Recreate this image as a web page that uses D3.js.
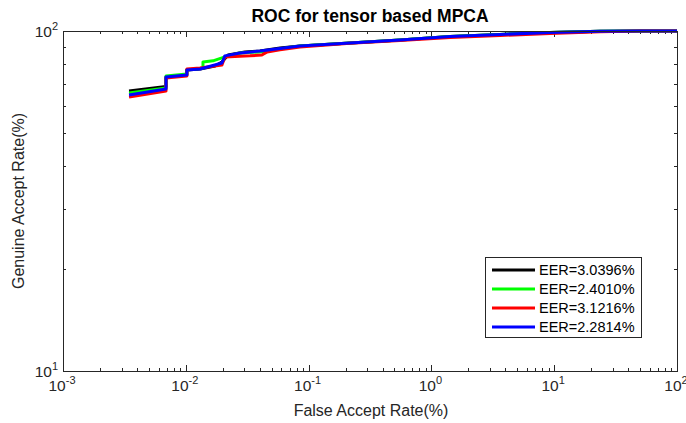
<!DOCTYPE html>
<html><head><meta charset="utf-8">
<script src="https://cdn.jsdelivr.net/npm/d3@7"></script>
<style>body{margin:0;background:#fff}svg{display:block}text{font-family:"Liberation Sans",Arial,Helvetica,sans-serif}</style>
</head><body><svg id="c" width="686" height="423"></svg>
<script>
const title = "ROC for tensor based MPCA";
const xLabel = "False Accept Rate(%)";
const yLabel = "Genuine Accept Rate(%)";
const xTickExps = [-3, -2, -1, 0, 1, 2];
const yTickExps = [1, 2];
const seriesNames = ["EER=3.0396%", "EER=2.4010%", "EER=3.1216%", "EER=2.2814%"];
const seriesColors = ["#000000", "#00ff00", "#ff0000", "#0000ff"];

const blackFAR = [0.00345,0.0069,0.0069,0.0102,0.0102,0.0131,0.0173,0.0197,0.0221,0.0303,0.0402,0.0585,0.085,0.217,0.555,1.42,3.62,9.25,23.6,50,100];
const blackGAR = [66.6,68.7,73.2,74.2,76.8,77.3,78.9,81.1,85.0,86.8,87.3,89.1,90.3,92.2,94.1,96.3,97.7,99.0,99.8,100,100];
const greenFAR = [0.00345,0.0069,0.0069,0.0102,0.0102,0.0138,0.0138,0.01665,0.0208,0.0276,0.0402,0.0585,0.085,0.217,0.555,1.42,3.62,9.25,23.6,50,100];
const greenGAR = [65.7,68.0,73.7,74.7,76.8,77.8,81.1,81.7,83.9,86.2,86.8,88.6,90.3,92.2,94.1,96.3,97.7,99.0,99.8,100,100];
const redFAR = [0.00345,0.0069,0.0069,0.0102,0.0102,0.0131,0.0197,0.0208,0.0334,0.0416,0.0460,0.0585,0.085,0.217,0.555,1.42,3.62,9.25,23.6,50,100];
const redGAR = [63.9,66.6,72.7,73.7,77.3,77.8,79.4,83.9,84.5,85.0,86.8,88.0,89.7,92.0,93.8,95.7,97.0,98.3,99.5,100,100];
const blueFAR = [0.00345,0.0069,0.0069,0.0102,0.0102,0.0131,0.0197,0.0208,0.0276,0.0402,0.0585,0.085,0.217,0.555,1.42,3.62,9.25,23.6,50,100];
const blueGAR = [64.8,67.5,73.2,74.2,76.8,77.3,80.5,84.5,86.2,87.3,88.8,90.3,92.2,94.1,96.3,97.7,99.0,99.8,100,100];

const seriesFAR = [blackFAR, greenFAR, redFAR, blueFAR];
const seriesGAR = [blackGAR, greenGAR, redGAR, blueGAR];

const L = 63, R = 677, T = 31, B = 371;
const svg = d3.select("#c");
const x = d3.scaleLog().domain([1e-3, 1e2]).range([L, R]);
const y = d3.scaleLog().domain([10, 100]).range([B, T]);
const axisColor = "#262626";

const g = svg.append("g");
function xTicks(yPos, dir) {
  for (let e = -3; e < 2; e++) for (let m = 1; m <= 9; m++) {
    const v = m * Math.pow(10, e); const px = Math.round(x(v)) + 0.5;
    const len = m === 1 ? 6 : 3;
    g.append("line").attr("x1", px).attr("x2", px).attr("y1", yPos).attr("y2", yPos + dir * len).attr("stroke", axisColor).attr("stroke-width", 1);
  }
}
function yTicks(xPos, dir) {
  for (let m = 1; m <= 10; m++) {
    const v = m * 10; const py = Math.round(y(v)) + 0.5;
    const len = (m === 1 || m === 10) ? 6 : 3;
    g.append("line").attr("y1", py).attr("y2", py).attr("x1", xPos).attr("x2", xPos + dir * len).attr("stroke", axisColor).attr("stroke-width", 1);
  }
}
xTicks(B, -1); xTicks(T, 1); yTicks(L, 1); yTicks(R, -1);

const line = d3.line().x(d => x(d[0])).y(d => y(d[1]));
seriesFAR.forEach((far, i) => {
  const pts = far.map((v, j) => [v, seriesGAR[i][j]]);
  svg.append("path").datum(pts).attr("d", line).attr("fill", "none")
    .attr("stroke", seriesColors[i]).attr("stroke-width", 3).attr("stroke-linejoin", "round");
});

svg.append("rect").attr("x", L + 0.5).attr("y", T + 0.5).attr("width", R - L).attr("height", B - T)
  .attr("fill", "none").attr("stroke", axisColor).attr("stroke-width", 1);

xTickExps.forEach(e => {
  const t = svg.append("text").attr("x", x(Math.pow(10, e)) - 1).attr("y", 391).attr("text-anchor", "middle")
    .attr("font-size", 15.5).attr("fill", axisColor);
  t.append("tspan").text("10");
  t.append("tspan").attr("dy", -7).attr("font-size", 11).text(String(e));
});
yTickExps.forEach(e => {
  const t = svg.append("text").attr("x", 58).attr("y", y(Math.pow(10, e)) + 6).attr("text-anchor", "end")
    .attr("font-size", 15.5).attr("fill", axisColor);
  t.append("tspan").text("10");
  t.append("tspan").attr("dy", -7).attr("font-size", 11).text(String(e));
});

svg.append("text").attr("x", (L + R) / 2).attr("y", 22).attr("text-anchor", "middle")
  .attr("font-size", 17.5).attr("font-weight", "bold").attr("fill", "#000").text(title);
svg.append("text").attr("x", (L + R) / 2 + 1).attr("y", 416).attr("text-anchor", "middle")
  .attr("font-size", 16).attr("fill", axisColor).text(xLabel);
svg.append("text").attr("transform", `translate(24,${(T + B) / 2}) rotate(-90)`).attr("text-anchor", "middle")
  .attr("font-size", 16).attr("fill", axisColor).text(yLabel);

const lg = svg.append("g");
lg.append("rect").attr("x", 485.5).attr("y", 257.5).attr("width", 156).attr("height", 80)
  .attr("fill", "#fff").attr("stroke", axisColor).attr("stroke-width", 1);
seriesNames.forEach((n, i) => {
  const yy = 270 + i * 19;
  lg.append("line").attr("x1", 492).attr("x2", 535).attr("y1", yy).attr("y2", yy)
    .attr("stroke", seriesColors[i]).attr("stroke-width", 3);
  lg.append("text").attr("x", 539).attr("y", yy + 5).attr("font-size", 14.5).attr("fill", "#000").text(n);
});
</script></body></html>
